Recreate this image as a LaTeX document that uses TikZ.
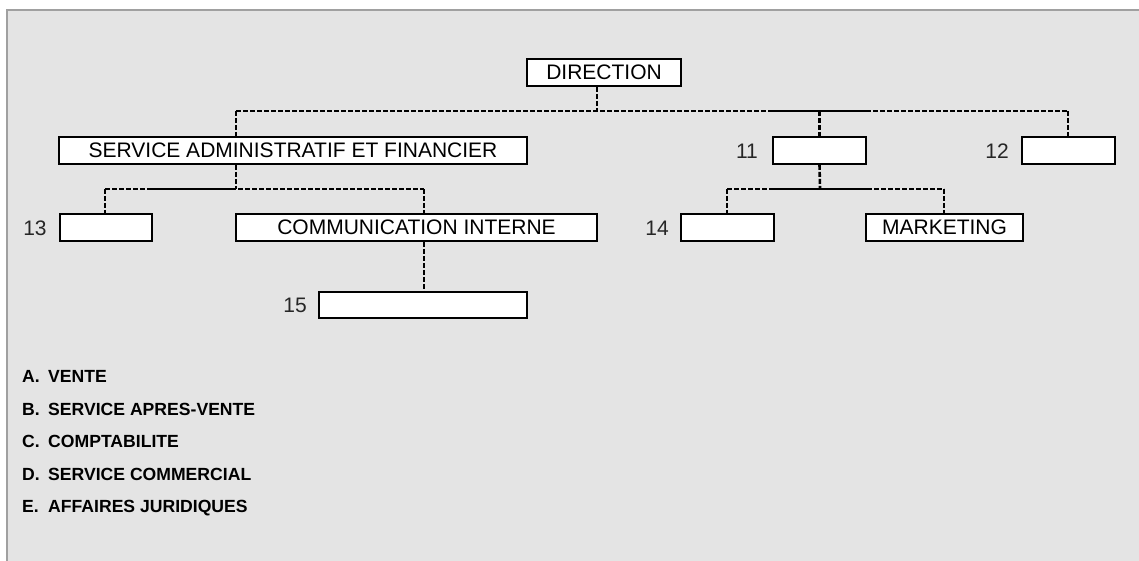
\documentclass[tikz,border=0pt]{standalone}
\usepackage{fontspec}
\setmainfont{Liberation Sans}
\definecolor{bgc}{HTML}{E4E4E4}
\definecolor{framec}{HTML}{A0A0A0}
\begin{document}
\begin{tikzpicture}[x=1pt,y=-1pt,
  orgbox/.style={draw=black,line width=1.8pt,fill=white,inner sep=0pt,
    minimum height=27pt,text height=15pt,text depth=0pt,
    font=\fontsize{21}{25}\selectfont},
  numlbl/.style={inner sep=0pt,text height=15pt,text depth=0pt,
    font=\fontsize{21}{25}\selectfont,text=black!85},
  conn/.style={line width=2.6pt,dash pattern=on 5pt off 2pt},
  hconn/.style={line width=2pt,dash pattern=on 5pt off 2pt},
  solidseg/.style={line width=2.4pt},
  leglbl/.style={inner sep=0pt,anchor=base west,
    font=\fontsize{17.6}{20}\selectfont\bfseries}
]
\useasboundingbox (0,0) rectangle (1139,561);
\fill[bgc] (7,10) rectangle (1139,561);
\draw[framec,line width=2pt] (7,561) -- (7,10) -- (1139,10);

% boxes
\node[orgbox,minimum width=154pt] (dir)  at (604,72.5)   {DIRECTION};
\node[orgbox,minimum width=468pt] (saf)  at (293,150.5)  {SERVICE ADMINISTRATIF ET FINANCIER};
\node[orgbox,minimum width=93pt]  (b11)  at (819.5,150.5) {};
\node[orgbox,minimum width=93pt]  (b12)  at (1068.5,150.5) {};
\node[orgbox,minimum width=92pt]  (b13)  at (106,227.5)  {};
\node[orgbox,minimum width=361pt] (comm) at (416.5,227.5) {COMMUNICATION INTERNE};
\node[orgbox,minimum width=93pt]  (b14)  at (727.5,227.5) {};
\node[orgbox,minimum width=157pt] (mkt)  at (944.5,227.5) {MARKETING};
\node[orgbox,minimum width=208pt,minimum height=26pt] (b15) at (423,305) {};

% number labels
\node[numlbl] (n11) at (747,151) {11};
\node[numlbl] (n12) at (997,151) {12};
\node[numlbl] (n13) at (35,228) {13};
\node[numlbl] (n14) at (657,228) {14};
\node[numlbl] (n15) at (295,305) {15};

% top level connectors
\coordinate (tj) at (597,111);
\coordinate (tl) at (236,111);
\coordinate (tr) at (1068,111);
\draw[conn] (dir.south -| tj) -- (tj);
\draw[hconn] (tl) -- (tr);
\draw[solidseg] (770,111) -- (870,111);
\draw[conn] (tl) -- (tl |- saf.north);
\draw[conn] (b11.north |- tj) -- (b11.north);
\draw[conn] (tr) -- (tr |- b12.north);

% left sub-level
\coordinate (lj) at (236,189);
\coordinate (ll) at (105,189);
\coordinate (lr) at (424,189);
\draw[conn] (saf.south -| lj) -- (lj);
\draw[hconn] (ll) -- (lr);
\draw[solidseg] (150,189) -- (236,189);
\draw[conn] (ll) -- (ll |- b13.north);
\draw[conn] (lr) -- (lr |- comm.north);
\draw[conn] (comm.south -| lr) -- (b15.north -| lr);

% right sub-level
\coordinate (rj) at (820,189);
\coordinate (rl) at (727,189);
\coordinate (rr) at (944,189);
\draw[conn] (b11.south) -- (rj);
\draw[hconn] (rl) -- (rr);
\draw[solidseg] (770,189) -- (870,189);
\draw[conn] (rl) -- (rl |- b14.north);
\draw[conn] (rr) -- (rr |- mkt.north);

% legend
\node[leglbl] (la) at (22,382.5) {A.};
\node[leglbl] (ta) at (48,382.5) {VENTE};
\node[leglbl] (lb) at (22,415) {B.};
\node[leglbl] (tb) at (48,415) {SERVICE APRES-VENTE};
\node[leglbl] (lc) at (22,447.5) {C.};
\node[leglbl] (tc) at (48,447.5) {COMPTABILITE};
\node[leglbl] (ld) at (22,480) {D.};
\node[leglbl] (td) at (48,480) {SERVICE COMMERCIAL};
\node[leglbl] (le) at (22,512.5) {E.};
\node[leglbl] (te) at (48,512.5) {AFFAIRES JURIDIQUES};
\end{tikzpicture}
\end{document}
